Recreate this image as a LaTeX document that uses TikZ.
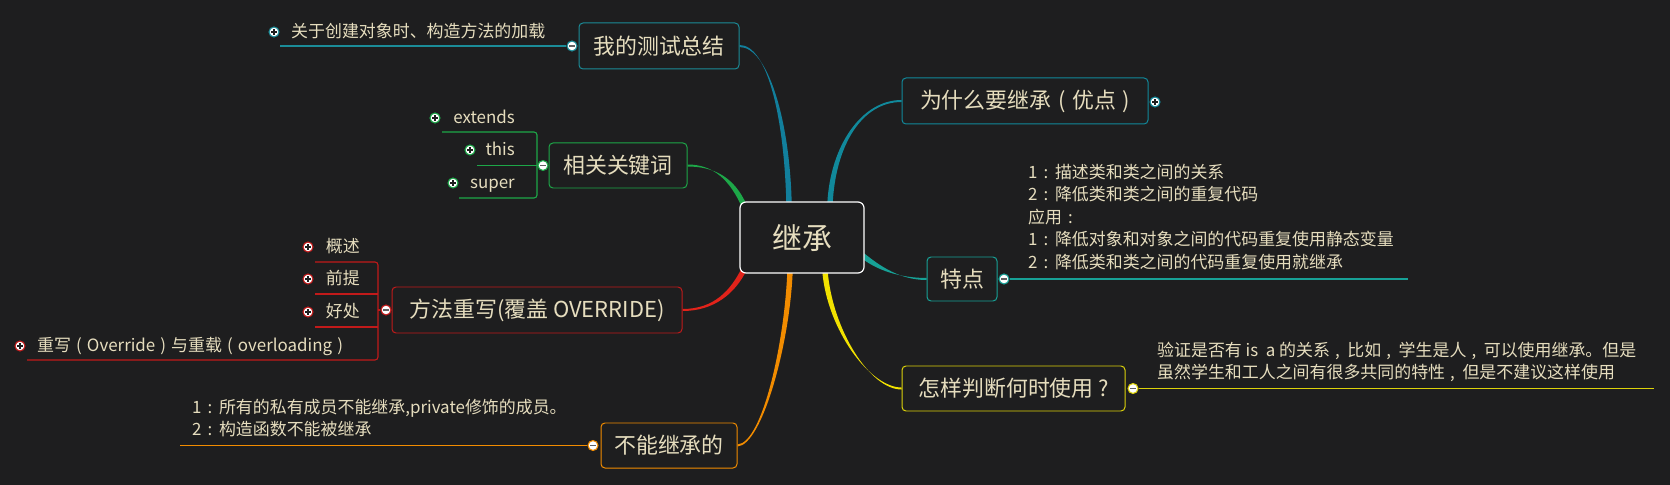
\documentclass[tikz,border=0pt]{standalone}
\usepackage{fontspec}
\setmainfont{Noto Sans CJK SC}
\usetikzlibrary{calc}
\pgfdeclarelayer{bg}
\pgfsetlayers{bg,main}
\definecolor{bgc}{HTML}{1E1E1F}
\definecolor{txt}{HTML}{E6DDBE}
\definecolor{cA}{HTML}{127F9C}
\definecolor{cAb}{HTML}{1B8C98}
\definecolor{cB}{HTML}{11899B}
\definecolor{cC}{HTML}{1DA748}
\definecolor{cD}{HTML}{E2231A}
\definecolor{cDb}{HTML}{C21A1A}
\definecolor{cE}{HTML}{F28C00}
\definecolor{cF}{HTML}{17A196}
\definecolor{cG}{HTML}{F2E200}
\definecolor{cGb}{HTML}{DCD20A}
\newcommand\mylp{\hspace{0.3em}(\hspace{0.3em}}
\newcommand\myrp{\hspace{0.3em})\hspace{0.3em}}
\newcommand\mycol{\hspace{0.35em}:\hspace{0.4em}}
\newcommand\mycom{\hspace{0.3em},\hspace{0.45em}}
\newcommand\taper[7]{\fill[#1] ($#2+#6$) .. controls ($#3+#6$) and ($#4+#7$) .. ($#5+#7$) -- ($#5-#7$) .. controls ($#4-#7$) and ($#3-#6$) .. ($#2-#6$) -- cycle;}
\tikzset{
  mainbox/.style={draw=#1, rounded corners=4pt, fill=bgc, text=txt, font=\fontsize{22}{26}\selectfont, minimum height=46bp, inner sep=0pt, line width=1pt},
  leaf/.style={text=txt, font=\fontsize{17}{22.5}\selectfont, inner sep=0pt, text height=14pt, text depth=2pt},
  note/.style={text=txt, font=\fontsize{17}{22.5}\selectfont, inner sep=0pt, align=left},
  wire/.style={draw=#1, line width=1.1pt},
  togicon/.style={circle, fill=white, draw=#1, line width=1.1pt, minimum size=10pt, inner sep=0pt},
  plusicon/.style={togicon=#1, path picture={\draw[line width=1.3pt, draw=bgc]
      ([xshift=2.4pt]path picture bounding box.west) -- ([xshift=-2.4pt]path picture bounding box.east)
      ([yshift=2.4pt]path picture bounding box.south) -- ([yshift=-2.4pt]path picture bounding box.north);}},
  minusicon/.style={togicon=#1, path picture={\draw[line width=1.3pt, draw=bgc!70]
      ([xshift=2.4pt]path picture bounding box.west) -- ([xshift=-2.4pt]path picture bounding box.east);}},
}
\begin{document}
\begin{tikzpicture}[x=1bp, y=-1bp]
\useasboundingbox (0,0) rectangle (1670,485);
% central
\node[mainbox=white, line width=1.2pt, minimum width=124bp, minimum height=71bp, rounded corners=6pt, font=\fontsize{30}{34}\selectfont] (c) at (802,237.5) {继承};
% main branches
\node[mainbox=cAb, minimum width=160bp] (n1) at (659,46) {我的测试总结};
\node[mainbox=cB, minimum width=246bp] (n2) at (1025,101) {为什么要继承\mylp 优点\myrp};
\node[mainbox=cC, minimum width=138bp, minimum height=45bp] (n3) at (618,165.5) {相关关键词};
\node[mainbox=cDb, minimum width=290bp] (n4) at (537,310) {方法重写(覆盖 OVERRIDE)};
\node[mainbox=cE, minimum width=136bp, minimum height=45bp] (n5) at (669,445.5) {不能继承的};
\node[mainbox=cF, minimum width=70bp, minimum height=44bp] (n6) at (962,279) {特点};
\node[mainbox=cGb, minimum width=223bp, minimum height=45bp] (n7) at (1013.5,388.5) {怎样判断何时使用\hspace{0.2em}?};

% connector end points on the centre
\coordinate (a1) at ($(c.north)+(-13,2)$);
\coordinate (a2) at ($(c.north)+(28,2)$);
\coordinate (a3) at ($(c.north west)+(5,5)$);
\coordinate (a4) at ($(c.south west)+(5,-5)$);
\coordinate (a5) at ($(c.south)+(-12,-2)$);
\coordinate (a6) at ($(c.east)+(-2,18)$);
\coordinate (a7) at ($(c.south)+(23,-2)$);

\begin{pgfonlayer}{bg}
\fill[bgc] (0,0) rectangle (1670,485);
\taper{cA}{(n1.east)}{(768,46)}{(787,120)}{(a1)}{(0,1)}{(2.7,0)}
\taper{cB}{(n2.west)}{(862,101)}{(833,145)}{(a2)}{(0,1)}{(2.7,0)}
\taper{cC}{(n3.east)}{(713,165.5)}{(732,178)}{(a3)}{(0,1)}{(2.2,-1.5)}
\taper{cD}{(n4.east)}{(714,310)}{(733,292)}{(a4)}{(0,1)}{(2.2,1.5)}
\taper{cE}{(n5.east)}{(762,444)}{(787,345)}{(a5)}{(0,1)}{(2.7,0)}
\taper{cF}{(n6.west)}{(900,279)}{(878,268)}{(a6)}{(0,1)}{(1.7,-2.1)}
\taper{cG}{(n7.west)}{(870,388.5)}{(830,330)}{(a7)}{(0,1)}{(2.7,0)}
\end{pgfonlayer}

% branch 1 : 我的测试总结
\node[minusicon=cAb] (m1) at (572,46) {};
\node[plusicon=cAb] (p1) at (274,32) {};
\node[leaf, anchor=west] (k1) at (291,32) {关于创建对象时、构造方法的加载};
\coordinate (e1) at (280,46);
\draw[wire=cAb] (m1.west) -- (e1);

% branch 2 : 为什么要继承
\node[plusicon=cB] (p2) at (1155,102) {};

% branch 3 : 相关关键词
\node[minusicon=cC] (m3) at (543,165.5) {};
\node[plusicon=cC] (p31) at (435,118) {};
\node[leaf, anchor=east] (k31) at (515,118) {extends};
\node[plusicon=cC] (p32) at (470,150) {};
\node[leaf, anchor=east] (k32) at (515,150) {this};
\node[plusicon=cC] (p33) at (453,183) {};
\node[leaf, anchor=east] (k33) at (515,183) {super};
\coordinate (u31) at (442,132);
\coordinate (u32) at (477,165.5);
\coordinate (u33) at (459,198);
\coordinate (b3) at (537,165.5);
\draw[wire=cC, rounded corners=3pt] (u31) -| (u33 -| b3) -- (u33);
\draw[wire=cC] (u32) -- (m3.west);

% branch 4 : 方法重写
\node[minusicon=cDb] (m4) at (386,310) {};
\node[plusicon=cDb] (p41) at (308,247) {};
\node[leaf, anchor=east] (k41) at (360,247) {概述};
\node[plusicon=cDb] (p42) at (308,279) {};
\node[leaf, anchor=east] (k42) at (360,279) {前提};
\node[plusicon=cDb] (p43) at (308,312) {};
\node[leaf, anchor=east] (k43) at (360,312) {好处};
\node[plusicon=cDb] (p44) at (20,346) {};
\node[leaf, anchor=west] (k44) at (37,346) {重写\mylp Override\myrp 与重载\mylp overloading\hspace{0.3em})};
\coordinate (u41) at (315,262);
\coordinate (u42) at (315,294);
\coordinate (u43) at (315,327);
\coordinate (u44) at (27,360);
\coordinate (b4) at (378,310);
\draw[wire=cDb, rounded corners=3pt] (u41) -| (u44 -| b4) -- (u44);
\draw[wire=cDb] (u42) -- (u42 -| b4) (u43) -- (u43 -| b4) (b4) -- (m4.west);

% branch 5 : 不能继承的
\node[minusicon=cE] (m5) at (593,445.5) {};
\coordinate (e5) at (180,445.5);
\draw[wire=cE] (m5.west) -- (e5);
\node[note, anchor=north west] (k5) at (192,399) {1\mycol 所有的私有成员不能继承,private修饰的成员。\\2\mycol 构造函数不能被继承};

% branch 6 : 特点
\node[minusicon=cF] (m6) at (1004,279) {};
\coordinate (e6) at (1408,279);
\draw[wire=cF] (m6.east) -- (e6);
\node[note, anchor=north west] (k6) at (1028,164) {1\mycol 描述类和类之间的关系\\2\mycol 降低类和类之间的重复代码\\应用\mycol\\1\mycol 降低对象和对象之间的代码重复使用静态变量\\2\mycol 降低类和类之间的代码重复使用就继承};

% branch 7 : 怎样判断何时使用
\node[minusicon=cGb] (m7) at (1133,388.5) {};
\coordinate (e7) at (1654,388.5);
\draw[wire=cGb] (m7.east) -- (e7);
\node[note, anchor=north west] (k7) at (1157,342) {验证是否有 is\ \ a 的关系\mycom 比如\mycom 学生是人\mycom 可以使用继承。但是\\虽然学生和工人之间有很多共同的特性\mycom 但是不建议这样使用};
\end{tikzpicture}
\end{document}
